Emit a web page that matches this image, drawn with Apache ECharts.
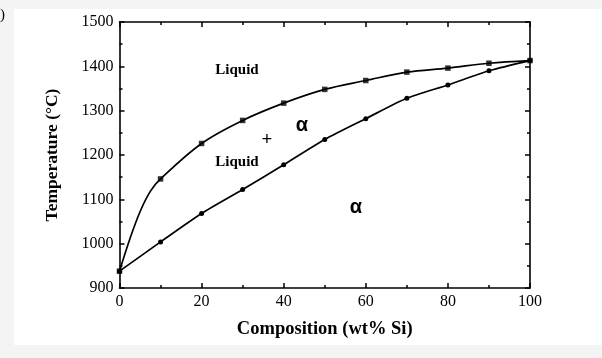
<!DOCTYPE html>
<html>
<head>
<meta charset="utf-8">
<script src="https://cdn.jsdelivr.net/npm/echarts@6/dist/echarts.min.js"></script>
<style>
html,body{margin:0;padding:0;background:#f4f4f4;}
#panel{position:absolute;left:14px;top:9px;width:588px;height:336px;background:#fff;}
#chart{position:absolute;left:0;top:0;width:602px;height:358px;}
</style>
</head>
<body>
<div id="panel"></div>
<div id="chart"></div>
<script>
// Composition (wt% Si) of the measured points
var compPoints = [0, 10, 20, 30, 40, 50, 60, 70, 80, 90, 100];
// Liquidus temperatures (square markers)
var liquidusT = [938, 1146, 1226, 1278, 1317, 1348, 1368, 1387, 1396, 1407, 1413];
// Solidus temperatures (round markers)
var solidusT = [938, 1004, 1068, 1122, 1178, 1235, 1282, 1328, 1358, 1390, 1413];
// Extra traced points of the liquidus curve between 0 and 10 wt% Si
var liquidusTraceX = [2.5, 5, 7.5];
var liquidusTraceT = [1010, 1072, 1118];
// Tick labels
var xTicks = [0, 20, 40, 60, 80, 100];
var yTicks = [900, 1000, 1100, 1200, 1300, 1400, 1500];

var liqCurve = [];
compPoints.forEach(function (c, i) { liqCurve.push([c, liquidusT[i]]); });
liquidusTraceX.forEach(function (c, i) { liqCurve.push([c, liquidusTraceT[i]]); });
liqCurve.sort(function (a, b) { return a[0] - b[0]; });
var solCurve = compPoints.map(function (c, i) { return [c, solidusT[i]]; });
var liqPts = compPoints.map(function (c, i) { return [c, liquidusT[i]]; });

var serif = 'Liberation Serif';
var tickStyle = { show: true, inside: true, length: 5, lineStyle: { color: '#000', width: 1.5 } };
var minorStyle = { show: true, splitNumber: 2, length: 3, lineStyle: { color: '#000', width: 1.5 } };
var lineAx = { show: true, onZero: false, lineStyle: { color: '#000', width: 1.6 } };

var chart = echarts.init(document.getElementById('chart'), null, { renderer: 'canvas' });
chart.setOption({
  backgroundColor: 'transparent',
  animation: false,
  grid: { left: 119.5, right: 72, top: 22, bottom: 70 },
  xAxis: [{
    type: 'value', min: 0, max: 100, interval: 20, position: 'bottom',
    axisLine: lineAx, axisTick: tickStyle, minorTick: minorStyle,
    splitLine: { show: false },
    axisLabel: { fontFamily: serif, fontSize: 16, color: '#000', margin: 6,
      formatter: function (v) { return xTicks.indexOf(v) >= 0 ? String(v) : ''; } },
    name: 'Composition (wt% Si)', nameLocation: 'middle', nameGap: 32,
    nameTextStyle: { fontFamily: serif, fontSize: 18.5, fontWeight: 'bold', color: '#000' }
  }, {
    type: 'value', min: 0, max: 100, interval: 20, position: 'top',
    axisLine: lineAx, axisTick: tickStyle, minorTick: minorStyle,
    splitLine: { show: false }, axisLabel: { show: false }
  }],
  yAxis: [{
    type: 'value', min: 900, max: 1500, interval: 100, position: 'left',
    axisLine: lineAx, axisTick: tickStyle, minorTick: minorStyle,
    splitLine: { show: false },
    axisLabel: { fontFamily: serif, fontSize: 16, color: '#000', margin: 6,
      formatter: function (v) { return yTicks.indexOf(v) >= 0 ? String(v) : ''; } },
    name: 'Temperature (°C)', nameLocation: 'middle', nameGap: 58, nameRotate: 90,
    nameTextStyle: { fontFamily: serif, fontSize: 17.5, fontWeight: 'bold', color: '#000' }
  }, {
    type: 'value', min: 900, max: 1500, interval: 100, position: 'right',
    axisLine: lineAx, axisTick: tickStyle, minorTick: minorStyle,
    splitLine: { show: false }, axisLabel: { show: false }
  }],
  series: [{
    type: 'line', data: liqCurve, smooth: 0.35, showSymbol: false,
    lineStyle: { color: '#000', width: 1.7 }, z: 3
  }, {
    type: 'scatter', data: liqPts, symbol: 'rect', symbolSize: 5.5,
    itemStyle: { color: '#000' }, z: 4
  }, {
    type: 'line', data: solCurve, smooth: 0.25, symbol: 'circle', symbolSize: 5,
    lineStyle: { color: '#000', width: 1.7 }, itemStyle: { color: '#000' }, z: 3
  }],
  graphic: [
    { type: 'text', left: 0, top: 8, style: { text: ')', font: '15px "Liberation Serif"', fill: '#000' } },
    { type: 'text', x: 237, y: 70, style: { text: 'Liquid', font: 'bold 15px "Liberation Serif"', fill: '#000', textAlign: 'center', textVerticalAlign: 'middle' } },
    { type: 'text', x: 237, y: 162, style: { text: 'Liquid', font: 'bold 15px "Liberation Serif"', fill: '#000', textAlign: 'center', textVerticalAlign: 'middle' } },
    { type: 'text', x: 267, y: 140, style: { text: '+', font: 'bold 19px "Liberation Serif"', fill: '#000', textAlign: 'center', textVerticalAlign: 'middle' } },
    { type: 'text', x: 302, y: 125, style: { text: 'α', font: 'bold 20px "Liberation Sans"', fill: '#000', textAlign: 'center', textVerticalAlign: 'middle' } },
    { type: 'text', x: 356, y: 207, style: { text: 'α', font: 'bold 20px "Liberation Sans"', fill: '#000', textAlign: 'center', textVerticalAlign: 'middle' } }
  ]
});
</script>
</body>
</html>
